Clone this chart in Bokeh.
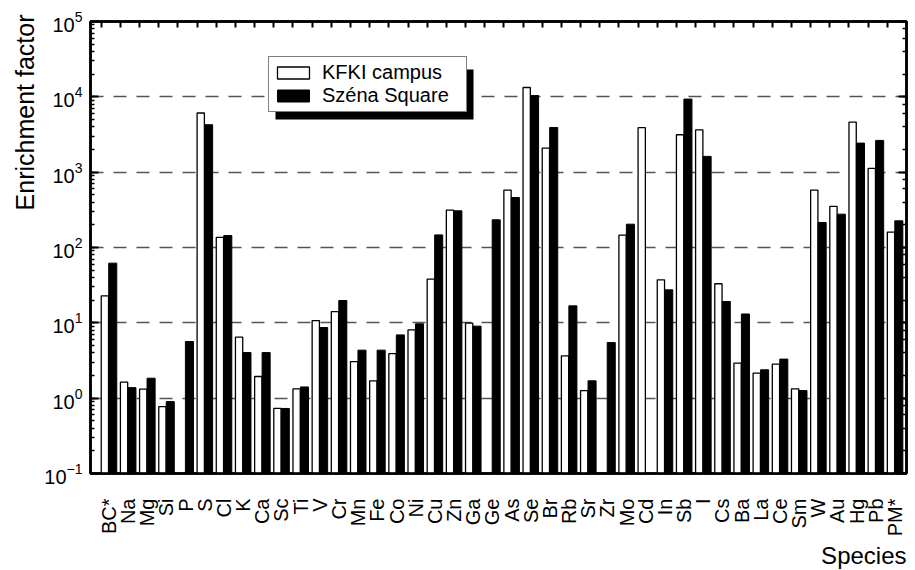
import math
from bokeh.plotting import figure
from bokeh.models import (ColumnDataSource, Range1d, LinearAxis, LogAxis, FixedTicker, Title,
                          Legend, LegendItem, BoxAnnotation, CustomJSTickFormatter)
from bokeh.transform import dodge
from bokeh.embed import file_html
from bokeh.resources import INLINE

species = ["BC*", "Na", "Mg", "Si", "P", "S", "Cl", "K", "Ca", "Sc", "Ti", "V", "Cr", "Mn",
           "Fe", "Co", "Ni", "Cu", "Zn", "Ga", "Ge", "As", "Se", "Br", "Rb", "Sr", "Zr", "Mo",
           "Cd", "In", "Sb", "I", "Cs", "Ba", "La", "Ce", "Sm", "W", "Au", "Hg", "Pb", "PM*"]

kfki_campus = [22.8, 1.63, 1.32, 0.77, None, 6100, 136, 6.46, 1.94, 0.73, 1.33, 10.7, 14.1, 3.06,
               1.70, 3.91, 8.07, 38, 314, 9.9, None, 578, 13300, 2090, 3.65, 1.26, None, 146,
               3890, 37.2, 3140, 3650, 33, 2.92, 2.15, 2.83, 1.33, 578, 351, 4620, 1120, 160]

szena_square = [62, 1.38, 1.84, 0.90, 5.65, 4260, 144, 4.03, 4.03, 0.73, 1.41, 8.67, 19.8, 4.34,
                4.34, 6.92, 9.7, 147, 307, 9.04, 233, 461, 10400, 3920, 16.8, 1.70, 5.47, 204,
                None, 27.4, 9330, 1620, 19.2, 13.1, 2.38, 3.30, 1.26, 215, 277, 2430, 2640, 226]

y_decades = [0.1, 1e5]

FONT = "Liberation Sans"
idx = list(range(len(species)))

src_k = ColumnDataSource(dict(x=[i for i, v in zip(idx, kfki_campus) if v is not None],
                              top=[v for v in kfki_campus if v is not None]))
src_s = ColumnDataSource(dict(x=[i for i, v in zip(idx, szena_square) if v is not None],
                              top=[v for v in szena_square if v is not None]))

X0, X1 = -0.96, 41.6
W, H = 912, 569
BL, BR, BT, BB = 90, 6, 21, 96
FW, FH = W - BL - BR, H - BT - BB

p = figure(width=W, height=H, y_axis_type="log",
           x_range=Range1d(X0, X1), y_range=Range1d(y_decades[0], y_decades[1]),
           output_backend="svg", toolbar_location=None,
           min_border_left=BL, min_border_right=BR, min_border_top=BT, min_border_bottom=BB)
p.background_fill_color = "white"
p.border_fill_color = "white"
p.outline_line_color = "black"
p.outline_line_width = 2.5

# grid
p.xgrid.visible = False
p.ygrid.grid_line_color = "#555555"
p.ygrid.grid_line_dash = "13 10"
p.ygrid.grid_line_width = 1.3

# bars
rk = p.vbar(x=dodge("x", -0.21), top="top", bottom=y_decades[0], width=0.38, source=src_k,
            fill_color="white", line_color="black", line_width=1.3)
rs = p.vbar(x=dodge("x", 0.20), top="top", bottom=y_decades[0], width=0.42, source=src_s,
            fill_color="black", line_color="black", line_width=1)

# bottom axis: species names
xa = p.xaxis[0]
xa.ticker = FixedTicker(ticks=idx)
xa.major_label_overrides = {i: s for i, s in zip(idx, species)}
xa.major_label_orientation = math.pi / 2
xa.major_label_text_font = FONT
xa.major_label_text_font_size = "20px"
xa.major_label_text_color = "black"
xa.major_label_standoff = 25
xa.major_tick_in = 0
xa.major_tick_out = 0
xa.minor_tick_in = 0
xa.minor_tick_out = 0
xa.axis_line_width = 2.5

# left axis
ya = p.yaxis[0]
ya.major_label_text_font = FONT
ya.major_label_text_font_size = "20px"
ya.major_label_text_color = "black"
ya.major_label_standoff = 8
ya.major_tick_in = 8
ya.major_tick_out = 0
ya.minor_tick_in = 4
ya.minor_tick_out = 0
ya.major_tick_line_width = 2
ya.minor_tick_line_width = 1.5
ya.axis_line_width = 2.5

# top axis with ticks only
top_ticks = [i - 0.4 for i in range(len(species) + 1)]
top = LinearAxis(ticker=FixedTicker(ticks=top_ticks),
                 formatter=CustomJSTickFormatter(code="return ''"),
                 major_label_standoff=0, major_label_text_font_size="10px",
                 major_tick_in=6, major_tick_out=0, minor_tick_in=0, minor_tick_out=0,
                 major_tick_line_width=2, axis_line_width=2.5)
p.add_layout(top, "above")

# right axis with ticks only
right = LogAxis(formatter=CustomJSTickFormatter(code="return ''"),
                major_label_standoff=0, major_label_text_font_size="10px",
                major_tick_in=8, major_tick_out=0, minor_tick_in=4, minor_tick_out=0,
                major_tick_line_width=2, minor_tick_line_width=1.5, axis_line_width=2.5)
p.add_layout(right, "right")

# legend shadow + legend
LX, LY, LW, LH, SH = 178, 361, 199, 52, 7
def xd(px):
    return X0 + px * (X1 - X0) / FW
def yd(py):
    return 10 ** (-1 + py * 6.0 / FH)
shadow = BoxAnnotation(left=xd(LX + SH), right=xd(LX + LW + SH - 1), bottom=yd(LY - SH),
                       top=yd(LY + LH - SH - 2), fill_color="black", fill_alpha=1,
                       line_color=None, level="annotation")
p.add_layout(shadow)

legend = Legend(items=[LegendItem(label="KFKI campus", renderers=[rk]),
                       LegendItem(label="Széna Square", renderers=[rs])],
                location=(LX, LY), orientation="vertical", padding=4, spacing=0, margin=0,
                glyph_width=40, glyph_height=15, label_standoff=9, label_width=140, label_height=22,
                label_text_font=FONT, label_text_font_size="20px", label_text_color="black",
                border_line_color="black", border_line_width=1.5,
                background_fill_color="white", background_fill_alpha=1)
p.add_layout(legend)

# axis titles
p.add_layout(Title(text="Enrichment factor", align="right", offset=-7, standoff=6,
                   text_font=FONT, text_font_size="25px", text_font_style="normal",
                   text_color="black"), "left")
p.add_layout(Title(text="Species", align="right", standoff=0,
                   text_font=FONT, text_font_size="24px", text_font_style="normal",
                   text_color="black"), "below")

open("out.html", "w").write(file_html(p, INLINE))
